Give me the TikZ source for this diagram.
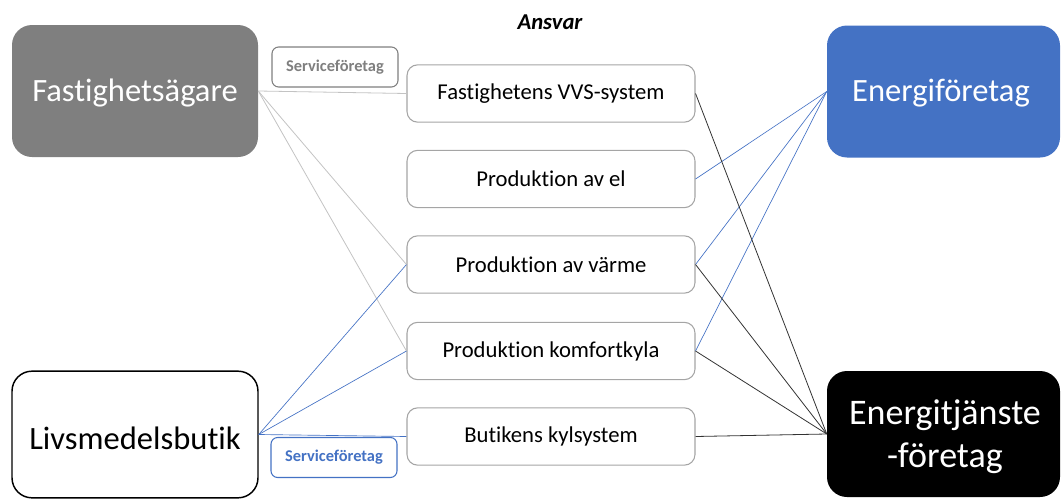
\documentclass[tikz,border=0pt]{standalone}
\usepackage{fontspec}
\setmainfont[Ligatures={NoCommon}]{Carlito}
\definecolor{efblue}{RGB}{68,114,196}
\definecolor{fagray}{RGB}{127,127,127}
\definecolor{boxgray}{RGB}{165,165,165}
\definecolor{lgray}{RGB}{195,195,195}
\begin{document}
\begin{tikzpicture}[x=0.75pt,y=-0.75pt,
  bigbox/.style={rounded corners=15pt, minimum width=184.5pt, minimum height=99pt, inner sep=0pt},
  midbox/.style={draw=boxgray, line width=0.8pt, rounded corners=8pt, fill=white, minimum width=216pt, minimum height=43pt, inner sep=0pt, font=\fontsize{17}{20}\selectfont},
  svcbox/.style={rounded corners=5pt, line width=0.8pt, fill=white, minimum width=94.5pt, minimum height=30pt, inner sep=0pt, font=\fontsize{12.3}{14}\selectfont\bfseries},
  bigtext/.style={font=\fontsize{24.4}{33}\selectfont, align=center},
  gline/.style={draw=lgray, line width=0.6pt},
  bline/.style={draw=efblue, line width=0.5pt},
  kline/.style={draw=black!80, line width=0.6pt}]
\useasboundingbox (0,0) rectangle (1061,500);
\clip (0,0) rectangle (1061,500);
% big boxes
\node[bigbox, fill=fagray] (fa) at (135,91) {};
\node[bigtext, text=white] (fat) at (135,93) {Fastighetsägare};
\node[bigbox, draw=black, line width=1.1pt, fill=white, minimum height=95pt] (lb) at (135,434.5) {};
\node[bigtext] (lbt) at (135,438) {Livsmedelsbutik};
\node[bigbox, fill=efblue, minimum width=174.75pt] (ef) at (943.5,91.5) {};
\node[bigtext, text=white] (eft) at (941,93) {Energiföretag};
\node[bigbox, fill=black, minimum width=174.75pt, minimum height=94.5pt] (et) at (943.5,434) {};
\node[bigtext, text=white, font=\fontsize{27}{32.5}\selectfont] (ett) at (945,437) {Energitjänste\\-företag};
% middle boxes
\node[midbox] (vvs) at (551,93.5) {Fastighetens VVS-system};
\node[midbox] (el) at (551,179) {Produktion av el};
\node[midbox] (va) at (551,264.5) {Produktion av värme};
\node[midbox] (kk) at (551,351) {Produktion komfortkyla};
\node[midbox] (ks) at (551,436.5) {Butikens kylsystem};
% title
\node[font=\fontsize{17}{20}\selectfont\bfseries\itshape] (ans) at (550,22) {Ansvar};
% connectors
\draw[gline] (fa.east) -- (vvs.west);
\draw[gline] (fa.east) -- (va.west);
\draw[gline] (fa.east) -- (kk.west);
\draw[bline] (lb.east) -- (va.west);
\draw[bline] (lb.east) -- (kk.west);
\draw[bline] (lb.east) -- (ks.west);
\draw[bline] (ef.west) -- (el.east);
\draw[bline] (ef.west) -- (va.east);
\draw[bline] (ef.west) -- (kk.east);
\draw[kline] (et.west) -- (vvs.east);
\draw[kline] (et.west) -- (va.east);
\draw[kline] (et.west) -- (kk.east);
\draw[kline] (et.west) -- (ks.east);
% service boxes
\node[svcbox, draw=fagray, text=fagray] (s1) at (335,67) {Serviceföretag};
\node[svcbox, draw=efblue, text=efblue] (s2) at (334,457.5) {Serviceföretag};
\end{tikzpicture}
\end{document}
